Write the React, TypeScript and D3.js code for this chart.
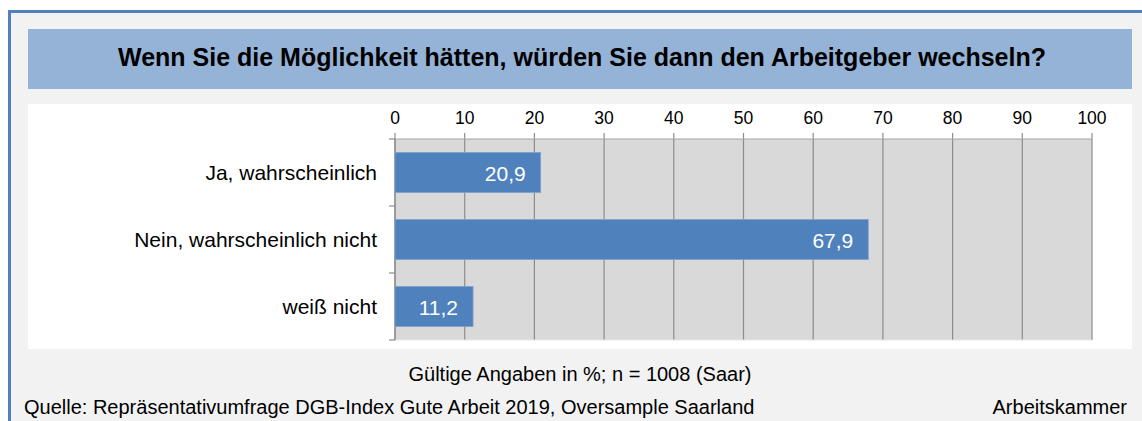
import React from "react";
import * as d3 from "d3";

const categories = ["Ja, wahrscheinlich", "Nein, wahrscheinlich nicht", "weiß nicht"];
const values = [20.9, 67.9, 11.2];
const ticks = [0, 10, 20, 30, 40, 50, 60, 70, 80, 90, 100];
const title = "Wenn Sie die Möglichkeit hätten, würden Sie dann den Arbeitgeber wechseln?";
const note = "Gültige Angaben in %; n = 1008 (Saar)";
const source = "Quelle: Repräsentativumfrage DGB-Index Gute Arbeit 2019, Oversample Saarland";
const publisher = "Arbeitskammer";

const W = 1142, H = 421;
const FONT = "'Liberation Sans', Arial, sans-serif";

export default function App() {
  const x = d3.scaleLinear().domain([0, 100]).range([395, 1092]);
  const y = d3.scaleBand<string>().domain(categories).range([139, 340]).paddingInner(0.4).paddingOuter(0.2);
  const bandEdges = [139, ...categories.map((c) => (y(c) as number) + y.bandwidth() + (y.step() * y.paddingInner()) / 2)];
  const fmt = (v: number) => v.toFixed(1).replace(".", ",");
  return (
    <svg width={W} height={H} style={{ position: "absolute", left: 0, top: 0 }} fontFamily={FONT}>
      <rect x={0} y={0} width={W} height={H} fill="#ffffff" />
      <rect x={8} y={10} width={W - 8} height={H - 10} fill="#4F81BD" />
      <rect x={11} y={13} width={W - 11} height={H - 13} fill="#F2F2F2" />
      <rect x={28} y={29} width={1104} height={60} fill="#95B3D7" />
      <text x={582} y={66} textAnchor="middle" fontSize={25} fontWeight="bold" fill="#000">{title}</text>
      <rect x={28} y={104} width={1104} height={245} fill="#ffffff" />
      <rect x={x(0)} y={139} width={x(100) - x(0)} height={201} fill="#D9D9D9" />
      {ticks.map((t) => (
        <g key={t}>
          <line x1={x(t)} x2={x(t)} y1={133} y2={340} stroke="#8C8C8C" strokeWidth={1.2} />
          <text x={x(t)} y={124} textAnchor="middle" fontSize={17.5} fill="#000">{t}</text>
        </g>
      ))}
      <line x1={x(0)} x2={x(100)} y1={139} y2={139} stroke="#A6A6A6" strokeWidth={1} />
      <line x1={x(0)} x2={x(100)} y1={340} y2={340} stroke="#E8E8E8" strokeWidth={1} />
      <line x1={x(0)} x2={x(0)} y1={139} y2={340} stroke="#8C8C8C" strokeWidth={1.2} />
      {bandEdges.map((e, i) => (
        <line key={i} x1={389} x2={x(0)} y1={e} y2={e} stroke="#8C8C8C" strokeWidth={1.2} />
      ))}
      {categories.map((c, i) => {
        const yy = y(c) as number;
        const bh = y.bandwidth();
        return (
          <g key={c}>
            <rect x={x(0)} y={yy} width={x(values[i]) - x(0)} height={bh} fill="#4F81BD" stroke="#7FA3D0" strokeWidth={0.8} />
            <text x={377} y={yy + bh / 2 + 7} textAnchor="end" fontSize={21} fill="#000">{c}</text>
            <text x={x(values[i]) - 15} y={yy + bh / 2 + 8} textAnchor="end" fontSize={21} fill="#ffffff">{fmt(values[i])}</text>
          </g>
        );
      })}
      <text x={580} y={381} textAnchor="middle" fontSize={20} fill="#000">{note}</text>
      <text x={24} y={414} fontSize={20} fill="#000">{source}</text>
      <text x={1127} y={414} textAnchor="end" fontSize={20} fill="#000">{publisher}</text>
    </svg>
  );
}
